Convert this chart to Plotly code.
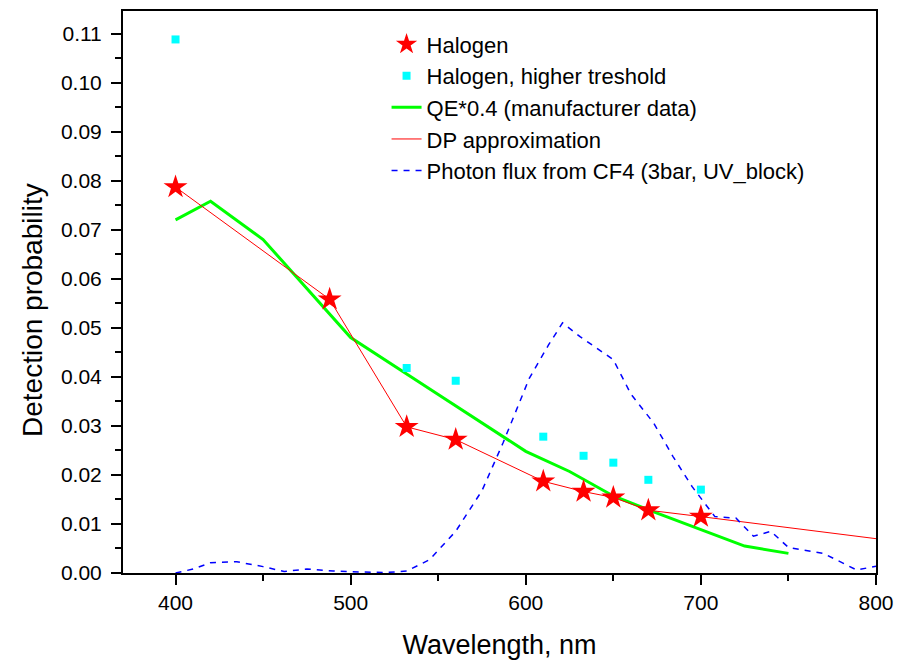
import plotly.graph_objects as go

# Halogen measurements (stars)
halogen_x = [400, 488, 532, 560, 610, 633, 650, 670, 700]
halogen_y = [0.0787, 0.0558, 0.0298, 0.0272, 0.0187, 0.0166, 0.0154, 0.0128, 0.0115]

# Halogen, higher threshold (squares)
high_x = [400, 532, 560, 610, 633, 650, 670, 700]
high_y = [0.1088, 0.0418, 0.0392, 0.0278, 0.0239, 0.0225, 0.0190, 0.0170]

# QE*0.4 (manufacturer data)
qe_x = [400, 420, 450, 500, 550, 600, 625, 650, 675, 700, 725, 750]
qe_y = [0.0720, 0.0758, 0.0680, 0.0480, 0.0364, 0.0248, 0.0207, 0.0157, 0.0122, 0.0088, 0.0055, 0.0040]

# DP approximation
dp_x = [400, 488, 532, 560, 610, 633, 650, 670, 700, 800]
dp_y = [0.0787, 0.0558, 0.0298, 0.0272, 0.0187, 0.0166, 0.0154, 0.0128, 0.0115, 0.0070]

# Photon flux from CF4 (3bar, UV_block)
flux_x = [400, 410, 420, 435, 450, 462, 475, 490, 505, 520, 532, 545, 560, 575, 587,
          602, 613, 621, 631, 650, 660, 673, 684, 695, 708, 720, 730, 740, 750, 770, 789, 800]
flux_y = [0.0000, 0.0008, 0.0021, 0.0023, 0.0013, 0.0003, 0.0008, 0.0004, 0.0002, 0.0001,
          0.0004, 0.0027, 0.0085, 0.0168, 0.0265, 0.0397, 0.0465, 0.0510, 0.0482, 0.0435,
          0.0365, 0.0306, 0.0238, 0.0176, 0.0115, 0.0112, 0.0075, 0.0085, 0.0052, 0.0040,
          0.0006, 0.0014]

x_ticks = [400, 500, 600, 700, 800]
y_ticks = [0.00, 0.01, 0.02, 0.03, 0.04, 0.05, 0.06, 0.07, 0.08, 0.09, 0.10, 0.11]
y_tick_text = ["%.2f" % v for v in y_ticks]

FONT = "Arial, Liberation Sans, sans-serif"

fig = go.Figure()
fig.add_trace(go.Scatter(x=qe_x, y=qe_y, mode="lines", name="QE*0.4 (manufacturer data)",
                         line=dict(color="#00FF00", width=3), legendrank=3))
fig.add_trace(go.Scatter(x=dp_x, y=dp_y, mode="lines", name="DP approximation",
                         line=dict(color="#FF0000", width=1), legendrank=4))
fig.add_trace(go.Scatter(x=flux_x, y=flux_y, mode="lines", name="Photon flux from CF4 (3bar, UV_block)",
                         line=dict(color="#0000FF", width=1.5, dash="6px,6px"), legendrank=5))
fig.add_trace(go.Scatter(x=high_x, y=high_y, mode="markers", name="Halogen, higher treshold",
                         marker=dict(symbol="square", color="#00FFFF", size=8), legendrank=2))
fig.add_trace(go.Scatter(x=halogen_x, y=halogen_y, mode="markers", name="Halogen",
                         marker=dict(symbol="star", color="#FF0000", size=18,
                                     line=dict(width=0)), legendrank=1))

fig.update_layout(
    width=911, height=662,
    margin=dict(l=123, r=35, t=11, b=89),
    paper_bgcolor="white", plot_bgcolor="white",
    font=dict(family=FONT, color="black", size=21),
    showlegend=True,
    legend=dict(x=0.35, y=0.978, xanchor="left", yanchor="top",
                bgcolor="rgba(0,0,0,0)", borderwidth=0,
                font=dict(size=22, family=FONT), traceorder="normal",
                tracegroupgap=0),
    xaxis=dict(range=[370, 800], tickvals=x_ticks, ticks="outside", ticklen=10, tickwidth=2,
               tickcolor="black", showline=True, linewidth=2, linecolor="black", mirror=True,
               showgrid=False, zeroline=False, automargin=False,
               minor=dict(dtick=50, tick0=350, ticks="outside", ticklen=6, tickwidth=2,
                          tickcolor="black", showgrid=False),
               title=dict(text="Wavelength, nm", font=dict(size=27), standoff=22),
               tickfont=dict(size=21)),
    yaxis=dict(range=[0, 0.1146], tickvals=y_ticks, ticktext=y_tick_text, ticks="outside",
               ticklen=10, tickwidth=2, tickcolor="black", showline=True, linewidth=2,
               linecolor="black", mirror=True, showgrid=False, zeroline=False,
               ticklabelstandoff=5, automargin=False,
               minor=dict(dtick=0.005, tick0=0, ticks="outside", ticklen=6, tickwidth=2,
                          tickcolor="black", showgrid=False),
               tickfont=dict(size=21)),
    annotations=[dict(text="Detection probability", textangle=-90, showarrow=False,
                      xref="paper", yref="paper", x=-0.1195, y=0.468,
                      xanchor="center", yanchor="middle", font=dict(size=28))],
)

fig.write_html("out.html")
